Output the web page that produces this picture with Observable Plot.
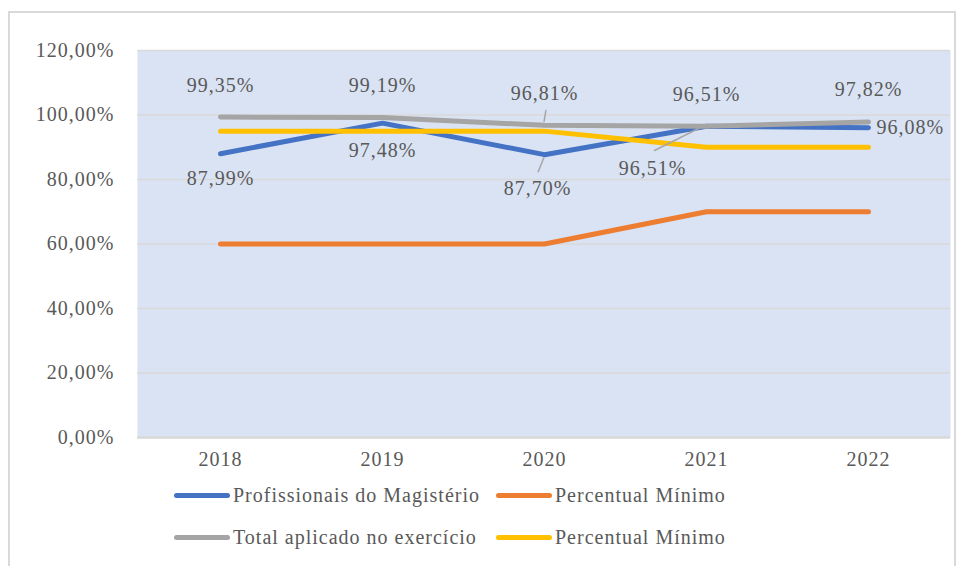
<!DOCTYPE html>
<html>
<head>
<meta charset="utf-8">
<script src="https://cdn.jsdelivr.net/npm/d3@7"></script>
<script src="https://cdn.jsdelivr.net/npm/@observablehq/plot@0.6"></script>
<style>
  body { margin: 0; background: #fff; }
  #wrap { position: relative; width: 960px; height: 566px; overflow: hidden; background: #fff; font-family: "Liberation Serif", serif; color: #595959; letter-spacing: 1px; }
  #frame { position: absolute; left: 8px; top: 11px; width: 948px; height: 620px; border: 2px solid #d9d9d9; box-sizing: border-box; }
  #chart { position: absolute; left: 0; top: 0; }
  .legend { position: absolute; left: 0; width: 960px; height: 30px; font-size: 20px; }
  .item { position: absolute; top: 0; display: flex; align-items: center; height: 30px; white-space: nowrap; font-family: "Liberation Serif", serif; }
  .sw { width: 56px; height: 5px; border-radius: 3px; margin-right: 3px; }
</style>
</head>
<body>
<div id="wrap">
  <div id="frame"></div>
  <div id="chart"></div>
  <div class="legend" id="leg1" style="top:480px"></div>
  <div class="legend" id="leg2" style="top:522px"></div>
</div>
<script>
const years = ["2018", "2019", "2020", "2021", "2022"];
const profissionais = [87.99, 97.48, 87.70, 96.51, 96.08];
const minimoMagisterio = [60, 60, 60, 70, 70];
const totalAplicado = [99.35, 99.19, 96.81, 96.51, 97.82];
const minimoTotal = [95, 95, 95, 90, 90];
const yTicks = [0, 20, 40, 60, 80, 100, 120];
const seriesNames = ["Profissionais do Magistério", "Percentual Mínimo", "Total aplicado no exercício", "Percentual Mínimo"];
const seriesColors = ["#4472c4", "#ed7d31", "#a5a5a5", "#ffc000"];

const fmt = v => v.toFixed(2).replace(".", ",") + "%";
const rows = vals => years.map((year, i) => ({year, value: vals[i]}));
const blue = rows(profissionais), orange = rows(minimoMagisterio), gray = rows(totalAplicado), yellow = rows(minimoTotal);

const FONT = "Liberation Serif";
const lineOpts = c => ({x: "year", y: "value", stroke: c, strokeWidth: 5, strokeLinecap: "round", strokeLinejoin: "round"});
const lab = (data, yr, o) => Plot.text(data.filter(d => d.year === yr), {
  x: "year", y: "value", text: d => fmt(d.value), fill: "#595959", fontSize: 20, fontFamily: FONT, ...o
});

const chart = Plot.plot({
  width: 960,
  height: 480,
  marginLeft: 137,
  marginRight: 10,
  marginTop: 50,
  marginBottom: 43,
  style: {fontFamily: FONT, fontSize: "20px", color: "#595959", background: "transparent", overflow: "visible", letterSpacing: "1px"},
  x: {type: "point", domain: years, padding: 0.5, tickSize: 0, tickPadding: 14, label: null},
  y: {domain: [0, 120], ticks: yTicks, tickFormat: fmt, tickSize: 0, tickPadding: 23, label: null},
  marks: [
    Plot.frame({fill: "#dae3f3", stroke: "none"}),
    Plot.ruleY(yTicks, {stroke: "#d9d9d9", strokeWidth: 1.5}),
    Plot.ruleY([0], {stroke: "#d9d9d9", strokeWidth: 2.5}),
    Plot.line(blue, lineOpts(seriesColors[0])),
    Plot.line(orange, lineOpts(seriesColors[1])),
    Plot.line(gray, lineOpts(seriesColors[2])),
    Plot.line(yellow, lineOpts(seriesColors[3])),
    ...years.map(yr => lab(gray, yr, {dy: -32})),
    lab(blue, "2018", {dy: 25}),
    lab(blue, "2019", {dy: 27}),
    lab(blue, "2020", {dy: 34, dx: -7}),
    lab(blue, "2021", {dy: 42, dx: -54}),
    lab(blue, "2022", {dx: 8, textAnchor: "start"})
  ]
});
document.getElementById("chart").appendChild(chart);

// leader lines, anchored at data points through the plot's scales
const sx = chart.scale("x"), sy = chart.scale("y");
const leaders = [
  {row: gray[2], a: [2, -15], b: [0, -3]},
  {row: blue[2], a: [0, 3], b: [-6, 18]},
  {row: blue[3], a: [-6, 2], b: [-52, 25]}
];
const g = d3.select(chart).append("g").attr("stroke", "#a6a6a6").attr("stroke-width", 1.5);
for (const l of leaders) {
  const px = sx.apply(l.row.year), py = sy.apply(l.row.value);
  g.append("line").attr("x1", px + l.a[0]).attr("y1", py + l.a[1]).attr("x2", px + l.b[0]).attr("y2", py + l.b[1]);
}

// legend
const legendLayout = [["leg1", 0, 174], ["leg1", 1, 496], ["leg2", 2, 174], ["leg2", 3, 496]];
for (const [id, i, left] of legendLayout) {
  const it = document.createElement("div");
  it.className = "item";
  it.style.left = left + "px";
  it.innerHTML = `<div class="sw" style="background:${seriesColors[i]}"></div><span>${seriesNames[i]}</span>`;
  document.getElementById(id).appendChild(it);
}
</script>
</body>
</html>
